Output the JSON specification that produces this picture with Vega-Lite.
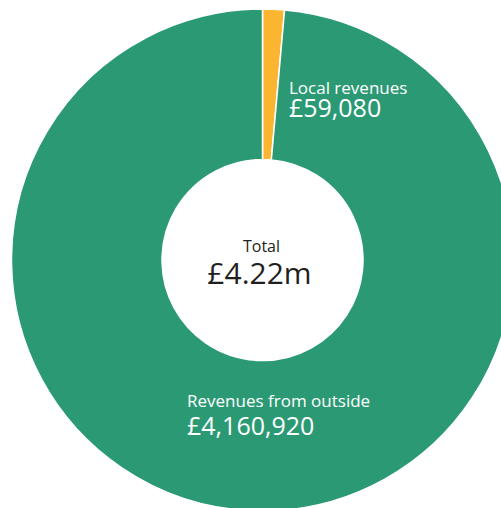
{
  "$schema": "https://vega.github.io/schema/vega-lite/v6.json",
  "width": 525,
  "height": 520,
  "autosize": "none",
  "padding": 0,
  "background": "white",
  "view": {"stroke": null},
  "config": {"text": {"font": "Open Sans"}},
  "data": {
    "values": [
      {"i": 1, "label": "Local revenues", "value": 59080, "display": "£59,080"},
      {"i": 2, "label": "Revenues from outside", "value": 4160920, "display": "£4,160,920"}
    ]
  },
  "encoding": {
    "theta": {"field": "value", "type": "quantitative", "stack": true},
    "order": {"field": "i", "type": "ordinal"}
  },
  "layer": [
    {
      "mark": {"type": "arc", "outerRadius": 251, "innerRadius": 100.5, "stroke": "white", "strokeWidth": 1.5},
      "encoding": {
        "color": {
          "field": "label",
          "type": "nominal",
          "scale": {"domain": ["Local revenues", "Revenues from outside"], "range": ["#fbb531", "#2b9a74"]},
          "legend": null
        }
      }
    },
    {
      "mark": {"type": "text", "radius": 170, "align": "left", "baseline": "alphabetic", "dx": 19, "dy": 4, "fontSize": 17, "color": "white"},
      "encoding": {
        "detail": {"field": "label"},
        "text": {"condition": {"test": "datum.i == 1", "field": "label"}, "value": ""}
      }
    },
    {
      "mark": {"type": "text", "radius": 170, "align": "left", "baseline": "alphabetic", "dx": 19, "dy": 27, "fontSize": 25, "color": "white"},
      "encoding": {
        "detail": {"field": "label"},
        "text": {"condition": {"test": "datum.i == 1", "field": "display"}, "value": ""}
      }
    },
    {
      "mark": {"type": "text", "radius": 170, "align": "left", "baseline": "alphabetic", "dx": -68, "dy": -23, "fontSize": 17, "color": "white"},
      "encoding": {
        "detail": {"field": "label"},
        "text": {"condition": {"test": "datum.i == 2", "field": "label"}, "value": ""}
      }
    },
    {
      "mark": {"type": "text", "radius": 170, "align": "left", "baseline": "alphabetic", "dx": -68, "dy": 5, "fontSize": 25, "color": "white"},
      "encoding": {
        "detail": {"field": "label"},
        "text": {"condition": {"test": "datum.i == 2", "field": "display"}, "value": ""}
      }
    },
    {
      "data": {"values": [{"line1": "Total", "line2": "£4.22m"}]},
      "mark": {"type": "text", "align": "center", "baseline": "alphabetic", "dx": -1, "dy": -8, "fontSize": 16, "color": "#231f20"},
      "encoding": {"theta": null, "order": null, "text": {"field": "line1"}}
    },
    {
      "data": {"values": [{"line1": "Total", "line2": "£4.22m"}]},
      "mark": {"type": "text", "align": "center", "baseline": "alphabetic", "dx": -3, "dy": 24, "fontSize": 30, "color": "#231f20"},
      "encoding": {"theta": null, "order": null, "text": {"field": "line2"}}
    }
  ]
}
